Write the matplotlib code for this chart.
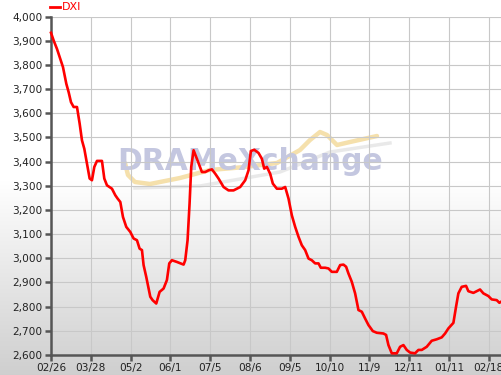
import numpy as np
import matplotlib
matplotlib.use("Agg")
import matplotlib.pyplot as plt
from matplotlib.lines import Line2D

# ---- data ----
tick_labels = ["02/26", "03/28", "05/2", "06/1", "07/5", "08/6",
               "09/5", "10/10", "11/9", "12/11", "01/11", "02/18"]
y_ticks = [2600, 2700, 2800, 2900, 3000, 3100, 3200, 3300, 3400, 3500,
           3600, 3700, 3800, 3900, 4000]

# x position in units of tick intervals (0 = 02/26, 1 = 03/28, ...)
dxi_x = [0, 0.067, 0.151, 0.234, 0.301, 0.385, 0.444, 0.502, 0.569, 0.653,
         0.720, 0.778, 0.837, 0.904, 0.971, 1.029, 1.088, 1.155, 1.280, 1.339,
         1.406, 1.531, 1.615, 1.674, 1.741, 1.808, 1.891, 1.992, 2.075, 2.159,
         2.226, 2.285, 2.326, 2.393, 2.494, 2.552, 2.644, 2.728, 2.828, 2.912,
         2.971, 3.038, 3.163, 3.331, 3.372, 3.431, 3.481, 3.523, 3.582, 3.665,
         3.791, 3.874, 3.958, 4.042, 4.126, 4.209, 4.335, 4.460, 4.586, 4.753,
         4.879, 4.962, 5.021, 5.105, 5.213, 5.297, 5.356, 5.423, 5.506, 5.573,
         5.674, 5.799, 5.883, 5.967, 6.050, 6.134, 6.218, 6.301, 6.385, 6.469,
         6.552, 6.636, 6.720, 6.778, 6.887, 6.971, 7.054, 7.180, 7.264, 7.347,
         7.414, 7.473, 7.556, 7.640, 7.724, 7.808, 7.891, 7.975, 8.084, 8.184,
         8.351, 8.418, 8.477, 8.561, 8.686, 8.770, 8.854, 8.937, 9.021, 9.146,
         9.230, 9.314, 9.439, 9.565, 9.690, 9.816, 9.900, 9.983, 10.109, 10.176,
         10.234, 10.318, 10.427, 10.485, 10.611, 10.778, 10.862, 10.987, 11.071,
         11.197, 11.264, 11.322]
dxi_v = [3933, 3901, 3866, 3825, 3791, 3722, 3687, 3646, 3626, 3626,
         3557, 3488, 3453, 3392, 3330, 3323, 3378, 3403, 3403, 3330,
         3302, 3288, 3261, 3247, 3233, 3171, 3130, 3109, 3082, 3075,
         3040, 3034, 2972, 2923, 2841, 2827, 2813, 2861, 2875, 2910,
         2979, 2992, 2985, 2974, 2992, 3075, 3226, 3378, 3447, 3412,
         3357, 3357, 3364, 3368, 3350, 3330, 3295, 3281, 3281, 3295,
         3323, 3364, 3444, 3449, 3436, 3412, 3371, 3378, 3350, 3309,
         3288, 3288, 3295, 3247, 3178, 3130, 3089, 3054, 3034, 2999,
         2992, 2979, 2979, 2961, 2961, 2958, 2944, 2944, 2972, 2974,
         2965, 2937, 2903, 2855, 2786, 2779, 2751, 2724, 2699, 2692,
         2689, 2683, 2641, 2607, 2607, 2634, 2641, 2621, 2610, 2607,
         2621, 2621, 2634, 2659, 2665, 2673, 2689, 2710, 2733, 2800,
         2855, 2882, 2886, 2864, 2857, 2871, 2855, 2844, 2830, 2827,
         2816, 2822]
series_name = "DXI"

# ---- figure ----
W, H = 502, 375
fig = plt.figure(figsize=(W / 100, H / 100), dpi=100)
plt.rcParams['font.family'] = ['DejaVu Sans']

# background gradient (white at top -> grey at bottom)
bg = fig.add_axes([0, 0, 1, 1], zorder=-10)
rows = np.arange(H)
start = 180
t = np.clip((rows - start) / (H - start), 0, 1)
g = 1.0 - 0.19 * t
grad = np.repeat(g[:, None], 2, axis=1)
bg.imshow(np.dstack([grad, grad, grad]), aspect='auto', extent=[0, 1, 0, 1],
          origin='upper')
bg.axis('off')

ax = fig.add_axes([51 / W, 20 / H, 1 - 51 / W, (355 - 16.6) / H])
ax.patch.set_alpha(0)

ax.set_xlim(0, 11.33)
ax.set_ylim(2600, 4000)
ax.set_xticks(range(len(tick_labels)))
ax.set_xticklabels(tick_labels)
ax.set_yticks(y_ticks)
ax.set_yticklabels([f"{v:,}" for v in y_ticks])
ax.grid(True, color='#c8c8c8', linewidth=0.8)
ax.set_axisbelow(True)

for s in ['top', 'right']:
    ax.spines[s].set_visible(False)
for s in ['left', 'bottom']:
    ax.spines[s].set_color('#555555')
    ax.spines[s].set_linewidth(1.8)
ax.tick_params(axis='both', colors='#555555', width=1.8, length=4,
               labelcolor='#222222', labelsize=7.6)
ax.tick_params(axis='y', pad=2)
ax.tick_params(axis='x', pad=2)

# watermark (decoration)
sx = np.array([125, 128, 135, 150, 180, 210, 245, 277, 300, 310, 320, 327,
               337, 350, 377]) / W
sy = 1 - np.array([163, 175, 182, 184, 178, 170, 167, 163, 150, 140, 132,
                   135, 145, 142, 136]) / H
fig.add_artist(Line2D(sx, sy, color='#f2d690', lw=3.2, alpha=0.75,
                      solid_capstyle='round', zorder=-6))
gx = np.array([135, 200, 280, 330, 390]) / W
gy = 1 - np.array([188, 186, 172, 152, 143]) / H
fig.add_artist(Line2D(gx, gy, color='#e4e4e4', lw=2.5, alpha=0.8, zorder=-7))
fig.text(250 / W, 1 - 161 / H, "DRAMeXchange", fontsize=21.5,
         fontweight='bold', color='#c4c7e0', ha='center', va='center',
         zorder=-5)

ax.plot(dxi_x, dxi_v, color='#ff0000', linewidth=1.9, clip_on=False, zorder=5)

# legend
fig.add_artist(Line2D([50 / W, 60 / W], [1 - 7 / H, 1 - 7 / H],
                      color='#ff0000', lw=2))
fig.text(62 / W, 1 - 7.5 / H, series_name, color='#ff0000', fontsize=8,
         va='center', ha='left')

fig.savefig("out.png", dpi=100)
